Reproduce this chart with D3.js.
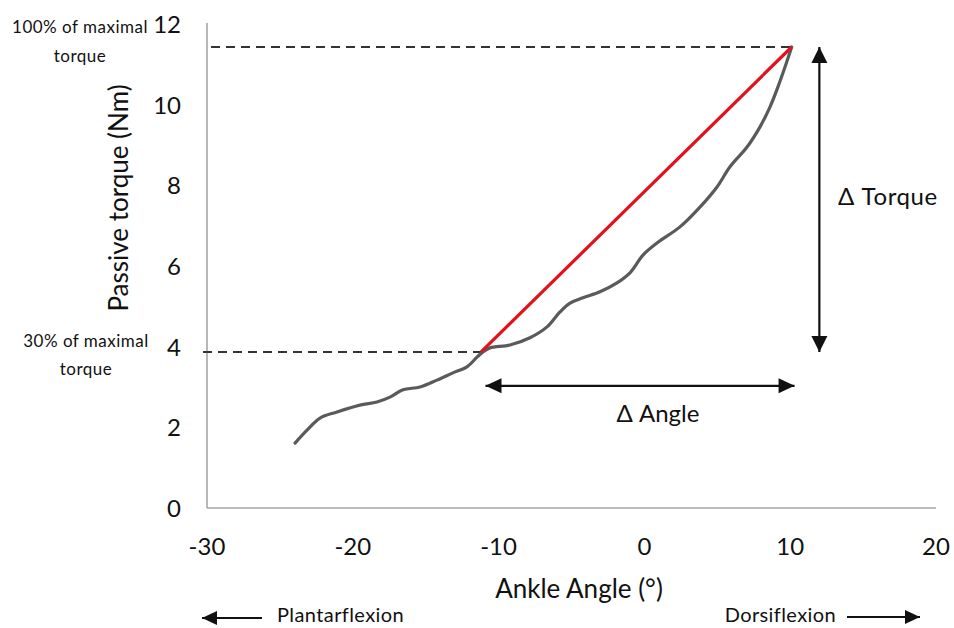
<!DOCTYPE html>
<html><head><meta charset="utf-8">
<script src="https://cdn.jsdelivr.net/npm/d3@7"></script>
<style>body{margin:0;background:#fff}svg{display:block}text{font-family:Lato,"Open Sans",sans-serif;fill:#111}</style>
</head><body>
<svg id="c" width="954" height="628"></svg>
<script>
const angle  = [-23.96,-23.14,-22.25,-21.08,-19.51,-18.34,-17.45,-16.56,-15.39,-14.23,-13.13,-12.17,-11.48,-11.07,-10.59,-9.22,-7.85,-6.68,-5.79,-5.10,-4.21,-3.05,-1.88,-0.99,-0.10,0.86,2.44,3.81,4.98,5.87,7.04,7.93,8.61,9.16,9.64,10.1];
const torque = [1.61,1.93,2.23,2.38,2.55,2.63,2.75,2.93,3.00,3.17,3.35,3.50,3.74,3.87,3.97,4.04,4.22,4.49,4.86,5.08,5.21,5.36,5.58,5.83,6.27,6.57,6.97,7.46,7.96,8.46,8.95,9.45,9.94,10.44,10.93,11.43];
const slopeAngle  = [-11.2, 10.1];
const slopeTorque = [3.87, 11.43];
const xTicks = [-30,-20,-10,0,10,20];
const yTicks = [0,2,4,6,8,10,12];
const deltaTorqueAt = 12;      // x position of Δ Torque arrow (°)
const deltaAngleAt = 3.03;     // y position of Δ Angle arrow (Nm)
const deltaAngleRange = [-10.9, 10.3];

const svg = d3.select("#c");
const x = d3.scaleLinear().domain([-30,20]).range([207,936]);
const y = d3.scaleLinear().domain([0,12]).range([508,24]);

// axes lines
svg.append("line").attr("x1",x(-30)).attr("x2",x(-30)).attr("y1",y(12)-1).attr("y2",y(0))
  .attr("stroke","#a6a6a6").attr("stroke-width",1.6);
svg.append("line").attr("x1",x(-30)).attr("x2",x(20)).attr("y1",y(0)).attr("y2",y(0))
  .attr("stroke","#a6a6a6").attr("stroke-width",1.6);

// tick labels
svg.selectAll(".xt").data(xTicks).join("text").attr("class","xt")
  .attr("x",d=>x(d)).attr("y",555).attr("text-anchor","middle")
  .style("font-size","24px").text(d=>d);
svg.selectAll(".yt").data(yTicks).join("text").attr("class","yt")
  .attr("x",181).attr("y",d=>y(d)+9).attr("text-anchor","end")
  .style("font-size","24px").text(d=>d);

// axis titles
svg.append("text").attr("transform",`translate(128,198) rotate(-90)`)
  .attr("text-anchor","middle").style("font-size","26px").text("Passive torque (Nm)");
svg.append("text").attr("x",579).attr("y",598).attr("text-anchor","middle")
  .style("font-size","26px").text("Ankle Angle (°)");

// dashed reference lines
svg.append("line").attr("x1",x(-30)+4).attr("x2",x(slopeAngle[1])).attr("y1",y(slopeTorque[1])).attr("y2",y(slopeTorque[1]))
  .attr("stroke","#333").attr("stroke-width",2).attr("stroke-dasharray","9,6");
svg.append("line").attr("x1",x(-30)-4).attr("x2",x(slopeAngle[0])).attr("y1",y(slopeTorque[0])).attr("y2",y(slopeTorque[0]))
  .attr("stroke","#333").attr("stroke-width",2).attr("stroke-dasharray","9,6");

// curve
const pts = angle.map((a,i)=>[a,torque[i]]);
svg.append("path").datum(pts)
  .attr("d",d3.line().x(d=>x(d[0])).y(d=>y(d[1])).curve(d3.curveCatmullRom))
  .attr("fill","none").attr("stroke","#5a5a5a").attr("stroke-width",3.2).attr("stroke-linecap","round");

// red slope line
svg.append("line").attr("x1",x(slopeAngle[0])).attr("y1",y(slopeTorque[0]))
  .attr("x2",x(slopeAngle[1])).attr("y2",y(slopeTorque[1]))
  .attr("stroke","#e3111b").attr("stroke-width",3.2);

// arrow helper
function arrow(x1,y1,x2,y2,heads,len,half,w){
  svg.append("line").attr("x1",x1).attr("y1",y1).attr("x2",x2).attr("y2",y2)
    .attr("stroke","#111").attr("stroke-width",w);
  const dx=x2-x1, dy=y2-y1, L=Math.hypot(dx,dy), ux=dx/L, uy=dy/L;
  const head=(tx,ty,sx,sy)=>{
    const bx=tx-sx*len, by=ty-sy*len;
    svg.append("polygon").attr("points",
      `${tx},${ty} ${bx-sy*half},${by+sx*half} ${bx+sy*half},${by-sx*half}`).attr("fill","#111");
  };
  if(heads.includes("end")) head(x2,y2,ux,uy);
  if(heads.includes("start")) head(x1,y1,-ux,-uy);
}
// Δ Torque arrow
arrow(x(deltaTorqueAt),y(slopeTorque[1]),x(deltaTorqueAt),y(slopeTorque[0]),["start","end"],16,8,2.2);
// Δ Angle arrow
arrow(x(deltaAngleRange[0]),y(deltaAngleAt),x(deltaAngleRange[1]),y(deltaAngleAt),["start","end"],16,7.5,2.2);

svg.append("text").attr("x",658).attr("y",422).attr("text-anchor","middle").style("font-size","24px").text("Δ Angle");
svg.append("text").attr("x",838).attr("y",205).style("font-size","24px").style("letter-spacing","0.6px").text("Δ Torque");

// left annotations
const ann = svg.append("g").style("font-size","17px").style("letter-spacing","0.5px");
ann.append("text").attr("x",80).attr("y",33).attr("text-anchor","middle").text("100% of maximal");
ann.append("text").attr("x",80).attr("y",62).attr("text-anchor","middle").text("torque");
ann.append("text").attr("x",86).attr("y",347).attr("text-anchor","middle").text("30% of maximal");
ann.append("text").attr("x",86).attr("y",375).attr("text-anchor","middle").text("torque");

// direction labels
svg.append("text").attr("x",277).attr("y",622).style("font-size","20px").style("letter-spacing","0.4px").text("Plantarflexion");
svg.append("text").attr("x",836).attr("y",622).attr("text-anchor","end").style("font-size","20px").style("letter-spacing","0.4px").text("Dorsiflexion");
arrow(262,618,202,618,["end"],15,7,2);
arrow(847,617,920,617,["end"],15,7,2);
</script>
</body></html>
